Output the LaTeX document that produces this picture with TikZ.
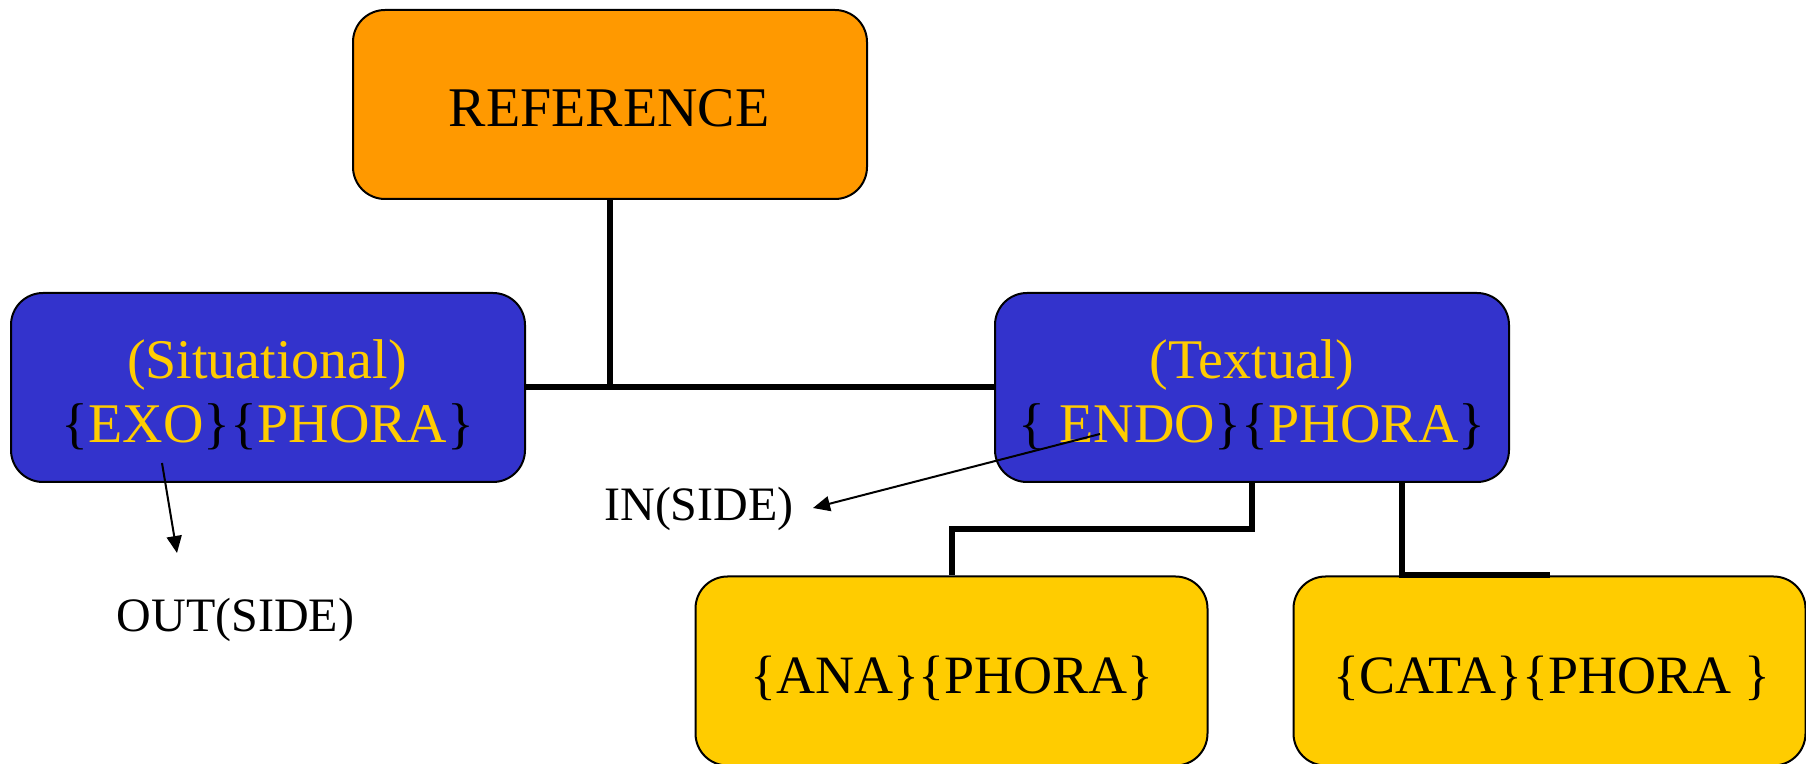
\documentclass[tikz,border=0pt]{standalone}
\usepackage{fontspec}
\setmainfont{Liberation Serif}
\usetikzlibrary{arrows.meta}
\definecolor{refor}{HTML}{FF9900}
\definecolor{phblue}{HTML}{3333CC}
\definecolor{phyel}{HTML}{FFCC00}
\newcommand{\blk}[1]{\textcolor{black}{#1}}
\begin{document}
\begin{tikzpicture}[x=0.5pt,y=-0.5pt,
  boxbase/.style={draw=black, line width=1pt, rounded corners=16pt, inner sep=0pt, minimum height=94.5pt},
  refbox/.style={boxbase, fill=refor, minimum width=257pt},
  bluebox/.style={boxbase, fill=phblue, minimum width=257pt},
  yelbox/.style={boxbase, fill=phyel, minimum width=256pt},
  bigtxt/.style={font=\fontsize{28}{32}\selectfont, anchor=base, inner sep=0pt},
  midtxt/.style={font=\fontsize{27}{32}\selectfont, anchor=base, inner sep=0pt},
  smalltxt/.style={font=\fontsize{24}{28}\selectfont, anchor=base, inner sep=0pt},
  link/.style={line width=3pt},
  pointer/.style={line width=1pt, -{Triangle[length=8.5pt,width=7.5pt]}}]
\useasboundingbox (0,0) rectangle (1806,764);
% boxes
\node[refbox]  (ref)  at (610,104.5) {};
\node[bluebox] (exo)  at (268,387.5) {};
\node[bluebox] (endo) at (1252,387.5) {};
\node[yelbox]  (ana)  at (951.5,671) {};
\node[yelbox]  (cata) at (1549.5,671) {};
% texts
\node[bigtxt] (reft) at (609,127) {REFERENCE};
\node[bigtxt, text=phyel] (exot1) at (267,379) {(Situational)};
\node[bigtxt, text=phyel] (exot2) at (268,443) {\blk{\{}EXO\blk{\}\{}PHORA\blk{\}}};
\node[bigtxt, text=phyel] (endot1) at (1252,379) {(Textual)};
\node[bigtxt, text=phyel] (endot2) at (1252,443) {\blk{\{} ENDO\blk{\}\{}PHORA\blk{\}}};
\node[midtxt] (anat) at (952,693) {\{ANA\}\{PHORA\}};
\node[midtxt] (catat) at (1552,693) {\{CATA\}\{PHORA \}};
\node[smalltxt] (outt) at (235.5,632) {OUT(SIDE)};
\node[smalltxt] (int) at (699,521) {IN(SIDE)};
% connectors
\draw[link] (ref.south) -- (ref.south |- exo.east);
\draw[link] (exo.east) -- (endo.east -| endo.west);
\coordinate (elbowA) at (1252,529);
\draw[link] (endo.south) -- (elbowA) -| (ana.north);
\draw[link] ([xshift=75pt]endo.south) |- (cata.north);
% pointers
\coordinate (exoStart) at (162,463);
\coordinate (outTip) at (177,553);
\coordinate (endoStart) at (1100,434);
\coordinate (inTip) at (813,508);
\draw[pointer] (exoStart) -- (outTip);
\draw[pointer] (endoStart) -- (inTip);
\end{tikzpicture}
\end{document}
